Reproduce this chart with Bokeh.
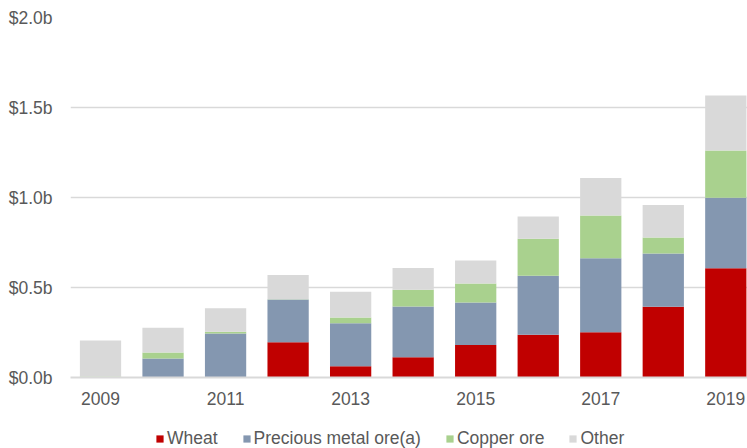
from bokeh.plotting import figure
from bokeh.layouts import column
from bokeh.models import (ColumnDataSource, Range1d, FixedTicker, PrintfTickFormatter,
                          Legend, LegendItem)
from bokeh.embed import file_html
from bokeh.resources import INLINE

years = [2009, 2010, 2011, 2012, 2013, 2014, 2015, 2016, 2017, 2018, 2019]
wheat = [0.0, 0.0, 0.0, 0.196, 0.063, 0.113, 0.180, 0.237, 0.252, 0.393, 0.607]
precious = [0.0, 0.106, 0.245, 0.237, 0.239, 0.281, 0.237, 0.328, 0.411, 0.296, 0.391]
copper = [0.006, 0.033, 0.009, 0.002, 0.031, 0.093, 0.105, 0.206, 0.237, 0.089, 0.263]
other = [0.200, 0.137, 0.131, 0.134, 0.143, 0.122, 0.128, 0.123, 0.209, 0.181, 0.306]
series = ["wheat", "precious", "copper", "other"]
labels = ["Wheat", "Precious metal ore(a)", "Copper ore", "Other"]
colors = ["#C00000", "#8497B0", "#A9D18E", "#D9D9D9"]
x_ticks = [2009, 2011, 2013, 2015, 2017, 2019]
y_ticks = [0.0, 0.5, 1.0, 1.5, 2.0]

src = ColumnDataSource(dict(year=years, wheat=wheat, precious=precious,
                            copper=copper, other=other))

FONT = "Liberation Sans"
FS = "17.5px"
TXT = "#595959"
GRID = "#D9D9D9"

p = figure(width=747, height=415, output_backend="svg", toolbar_location=None,
           x_range=Range1d(2008.52, 2019.347), y_range=Range1d(0, 2.0),
           min_border_left=70, min_border_right=0, min_border_top=17,
           min_border_bottom=38)
p.outline_line_color = None

rs = p.vbar_stack(series, x="year", width=0.66, source=src, color=colors,
                  line_color=None)

p.xgrid.visible = False
p.ygrid.grid_line_color = GRID
p.ygrid.grid_line_width = 1.3
p.ygrid.ticker = FixedTicker(ticks=y_ticks)

p.yaxis.ticker = FixedTicker(ticks=y_ticks)
p.yaxis.formatter = PrintfTickFormatter(format="$%.1fb")
p.yaxis.axis_line_color = None
p.yaxis.major_tick_line_color = None
p.yaxis.minor_tick_line_color = None
p.yaxis.major_tick_out = 0
p.yaxis.major_label_standoff = 18
p.yaxis.major_label_text_font = FONT
p.yaxis.major_label_text_font_size = FS
p.yaxis.major_label_text_color = TXT

p.xaxis.ticker = FixedTicker(ticks=x_ticks)
p.xaxis.axis_line_color = GRID
p.xaxis.axis_line_width = 2
p.xaxis.major_tick_line_color = None
p.xaxis.minor_tick_line_color = None
p.xaxis.major_tick_out = 0
p.xaxis.major_label_standoff = 14
p.xaxis.major_label_text_font = FONT
p.xaxis.major_label_text_font_size = FS
p.xaxis.major_label_text_color = TXT

# legend strip (its bars use the same data but lie outside this strip's range)
p2 = figure(width=747, height=33, output_backend="svg", toolbar_location=None,
            x_axis_type=None, y_axis_type=None,
            x_range=Range1d(0, 1), y_range=Range1d(0, 1),
            min_border_left=0, min_border_right=0, min_border_top=0,
            min_border_bottom=0)
p2.outline_line_color = None
p2.xgrid.visible = False
p2.ygrid.visible = False
keys = [p2.vbar(x="year", top=s, width=0.66, source=src, color=c, line_color=None)
        for s, c in zip(series, colors)]

items = [LegendItem(label=l, renderers=[r]) for l, r in zip(labels, keys)]
legend = Legend(items=items, orientation="horizontal", location=(85, -1),
                glyph_width=9, glyph_height=9, label_height=17,
                label_standoff=3, spacing=24, padding=0, margin=0,
                border_line_color=None, background_fill_alpha=0,
                label_text_font=FONT, label_text_font_size=FS,
                label_text_color=TXT)
p2.add_layout(legend, "center")

layout = column(p, p2, spacing=0)
open("out.html", "w").write(file_html(layout, INLINE))
